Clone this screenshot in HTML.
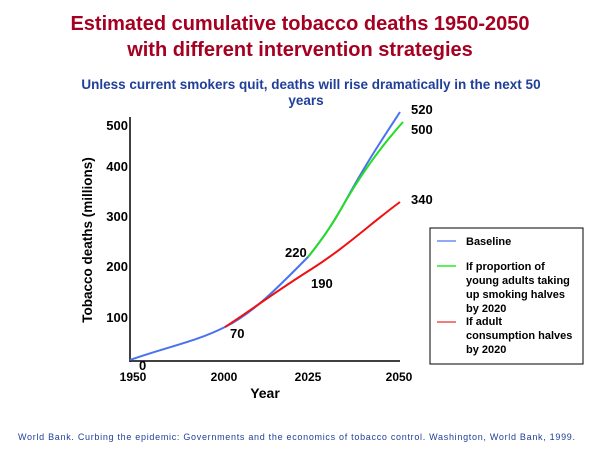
<!DOCTYPE html>
<html><head><style>
body{margin:0;width:600px;height:450px;background:#fff;overflow:hidden;font-family:"Liberation Sans",Arial,sans-serif}
</style></head><body>
<svg width="600" height="450" xmlns="http://www.w3.org/2000/svg" font-family="Liberation Sans, Arial, sans-serif">
<text x="300" y="30" text-anchor="middle" font-size="20" font-weight="bold" fill="#a50021">Estimated cumulative tobacco deaths 1950-2050</text>
<text x="300" y="56" text-anchor="middle" font-size="20" font-weight="bold" fill="#a50021">with different intervention strategies</text>
<text x="311" y="89" text-anchor="middle" font-size="13.5" font-weight="bold" fill="#1f3f99">Unless current smokers quit, deaths will rise dramatically in the next 50</text>
<text x="306" y="105" text-anchor="middle" font-size="13.5" font-weight="bold" fill="#1f3f99">years</text>
<line x1="130" y1="117" x2="130" y2="362" stroke="#000" stroke-width="1.5"/>
<line x1="130" y1="361" x2="400" y2="361" stroke="#000" stroke-width="1.5"/>
<g font-size="13" font-weight="bold" text-anchor="end">
<text x="128" y="130">500</text><text x="128" y="171">400</text><text x="128" y="221">300</text><text x="128" y="271">200</text><text x="128" y="322">100</text>
</g>
<g font-size="12" font-weight="bold" text-anchor="middle">
<text x="133" y="381">1950</text><text x="224" y="381">2000</text><text x="308" y="381">2025</text><text x="399" y="381">2050</text>
</g>
<text x="265" y="398" text-anchor="middle" font-size="14" font-weight="bold">Year</text>
<text transform="translate(92,240) rotate(-90)" text-anchor="middle" font-size="13.5" font-weight="bold">Tobacco deaths (millions)</text>
<path d="M130,360 C170,346 195,342 225,327 S280,285 308,257 C325,236 335,220 345,202 C365,165 383,138 400,112" fill="none" stroke="#4a72f0" stroke-width="2"/>
<path d="M308,257 C325,236 335,220 345,202 C365,168 385,142 403,122" fill="none" stroke="#22dd22" stroke-width="2"/>
<path d="M225,327 C250,311 275,292 310,270 S370,224 400,202" fill="none" stroke="#ee1111" stroke-width="2"/>
<g font-size="13" font-weight="bold">
<text x="139" y="370">0</text><text x="230" y="338">70</text><text x="285" y="257">220</text><text x="311" y="288">190</text>
<text x="411" y="114">520</text><text x="411" y="134">500</text><text x="411" y="204">340</text>
</g>
<rect x="430" y="228" width="153" height="136" fill="#fff" stroke="#000" stroke-width="1"/>
<line x1="437" y1="241" x2="456" y2="241" stroke="#6a8ff5" stroke-width="1.5"/>
<line x1="437" y1="266" x2="456" y2="266" stroke="#22ee22" stroke-width="1.5"/>
<line x1="437" y1="322" x2="456" y2="322" stroke="#f05050" stroke-width="1.5"/>
<g font-size="11" font-weight="bold">
<text x="466" y="245">Baseline</text>
<text x="466" y="270">If proportion of</text><text x="466" y="284">young adults taking</text><text x="466" y="298">up smoking halves</text><text x="466" y="312">by 2020</text>
<text x="466" y="325">If adult</text><text x="466" y="339">consumption halves</text><text x="466" y="353">by 2020</text>
</g>
<text x="18" y="440" font-size="9" fill="#1f3f99" textLength="557" lengthAdjust="spacing">World Bank. Curbing the epidemic: Governments and the economics of tobacco control. Washington, World Bank, 1999.</text>
</svg>
</body></html>
